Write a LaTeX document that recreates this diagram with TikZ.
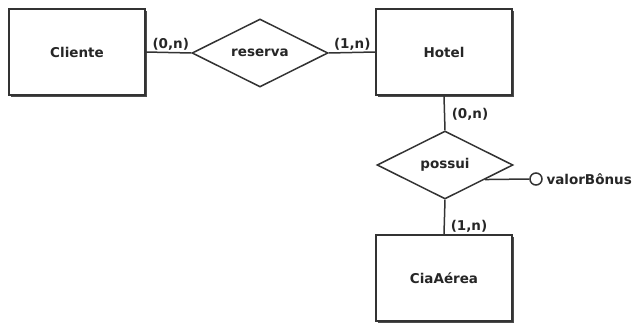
\documentclass[tikz,border=0pt]{standalone}
\usepackage{fontspec}
\setmainfont{DejaVu Sans}
\usetikzlibrary{shapes.geometric,shadows,positioning}

\begin{document}
\begin{tikzpicture}[x=1pt, y=-1pt, line width=1.5pt,
        every node/.style={font=\bfseries\fontsize{13.5}{15}\selectfont, text=black!85},
        entidade/.style={draw=black!80, fill=white, minimum width=136pt, minimum height=86pt,
            drop shadow={shadow xshift=2pt, shadow yshift=-2pt, fill=black!70, opacity=1}},
        relac/.style={draw=black!80, fill=white, diamond, inner sep=0pt, minimum width=136pt, minimum height=68pt},
        card/.style={inner sep=1pt}]
    \useasboundingbox (0,0) rectangle (638,324);

    % entidades
    \node[entidade] (cliente) at (77,52) {Cliente};
    \node[entidade] (hotel) at (444,52) {Hotel};
    \node[entidade] (cia) at (444,278) {CiaAérea};

    % relacionamentos
    \node[relac] (reserva) at (260,53) {reserva};
    \node[relac] (possui) at (445,165) {possui};

    \draw[black!80] (cliente.east) -- (reserva.west);
    \draw[black!80] (reserva.east) -- (hotel.west);
    \draw[black!80] (hotel.south) -- (possui.north);
    \draw[black!80] (possui.south) -- (cia.north);

    % cardinalidades
    \node[card, anchor=south west] at ([xshift=5pt]cliente.east) {(0,n)};
    \node[card, anchor=south east] at ([xshift=-3pt]hotel.west) {(1,n)};
    \node[card, anchor=west] at (450,114) {(0,n)};
    \node[card, anchor=south west] at ([xshift=5pt]cia.north) {(1,n)};

    % atributo
    \node[draw=black!80, fill=white, circle, inner sep=0pt, minimum size=12pt] (bonus) at (536,179) {};
    \draw[black!80] (possui.-20) -- (bonus.west);
    \node[anchor=west, inner sep=1pt] (bonusrot) at ([xshift=2pt]bonus.east) {valorBônus};
\end{tikzpicture}
\end{document}
